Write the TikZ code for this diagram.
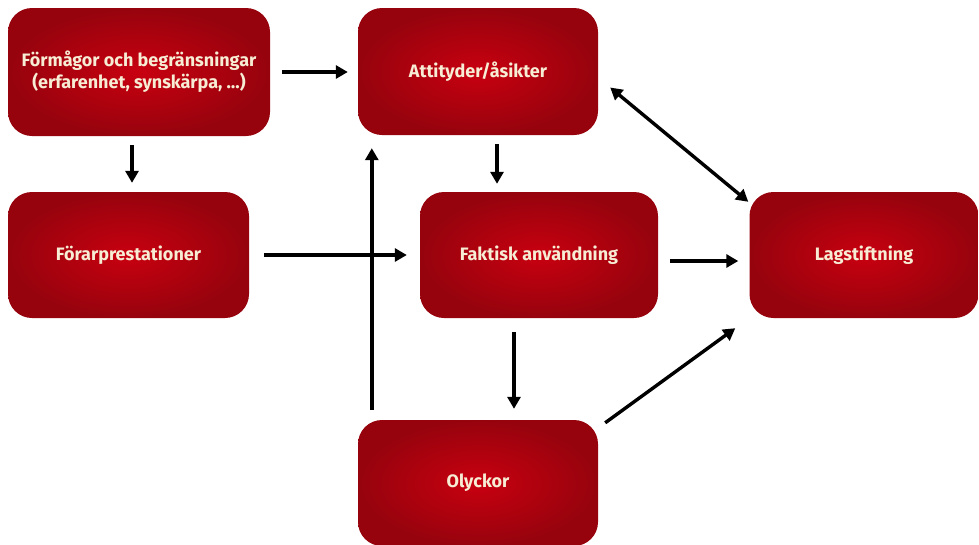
\documentclass[tikz,border=0pt]{standalone}
\usepackage{fontspec}
\setmainfont{Fira Sans}
\usetikzlibrary{arrows.meta, calc}
\definecolor{BoxRed}{RGB}{200, 0, 16}
\definecolor{BoxDark}{RGB}{150, 3, 13}
\definecolor{LabelCream}{RGB}{247, 236, 212}

\begin{document}
\begin{tikzpicture}[x=1pt, y=-1pt,
    redbox/.style={shade, shading=radial, inner color=BoxRed, outer color=BoxDark,
                   rounded corners=24pt, text=LabelCream,
                   font=\fontsize{18}{22}\selectfont\bfseries, align=center,
                   inner sep=0pt},
    flow/.style={-{Triangle[length=12pt, width=13pt]}, line width=3.4pt, black}]
    \useasboundingbox (0,0) rectangle (979,544);

    % Boxes
    \node[redbox, minimum width=262pt, minimum height=128pt] (abil) at (139, 72)
        {Förmågor och begränsningar\\(erfarenhet, synskärpa, \dots)};
    \node[redbox, minimum width=240pt, minimum height=127pt] (attit) at (478, 71.5)
        {Attityder/åsikter};
    \node[redbox, minimum width=241pt, minimum height=126pt] (perf) at (128.5, 255)
        {Förarprestationer};
    \node[redbox, minimum width=238pt, minimum height=126pt] (usage) at (539, 255)
        {Faktisk användning};
    \node[redbox, minimum width=229pt, minimum height=126pt] (law) at (864, 255)
        {Lagstiftning};
    \node[redbox, minimum width=240pt, minimum height=126pt] (crash) at (478, 483)
        {Olyckor};

    % Arrows
    \draw[flow, shorten <=12pt, shorten >=10pt] (abil.east) -- (abil.east -| attit.west);
    \draw[flow, shorten <=9pt, shorten >=9pt]
        ([xshift=-7pt]abil.south) -- ([xshift=-7pt]abil.south |- perf.north);
    \draw[flow, shorten <=9pt, shorten >=8pt]
        ([xshift=19pt]attit.south) -- ([xshift=19pt]attit.south |- usage.north);
    \draw[flow, shorten <=15pt, shorten >=13pt] (perf.east) -- (usage.west);
    \draw[flow, shorten <=10pt, shorten >=13pt]
        ([xshift=14pt]crash.north west) -- ([xshift=14pt]crash.north west |- attit.south);
    \draw[flow, shorten <=12pt, shorten >=11pt]
        ([yshift=-6pt]usage.east) -- ([yshift=-6pt]usage.east -| law.west);
    \draw[flow, shorten <=14pt, shorten >=11pt]
        ([xshift=-25pt]usage.south) -- ([xshift=-25pt]usage.south |- crash.north);
    \draw[flow] ([shift={(7pt,-3pt)}]crash.north east) -- ([shift={(-14pt,-10pt)}]law.south west);
    \draw[flow, {Triangle[length=12pt, width=13pt]}-{Triangle[length=12pt, width=13pt]}]
        ([shift={(12pt,-16pt)}]attit.east) -- ([shift={(-1pt,-10pt)}]law.north west);
\end{tikzpicture}
\end{document}
